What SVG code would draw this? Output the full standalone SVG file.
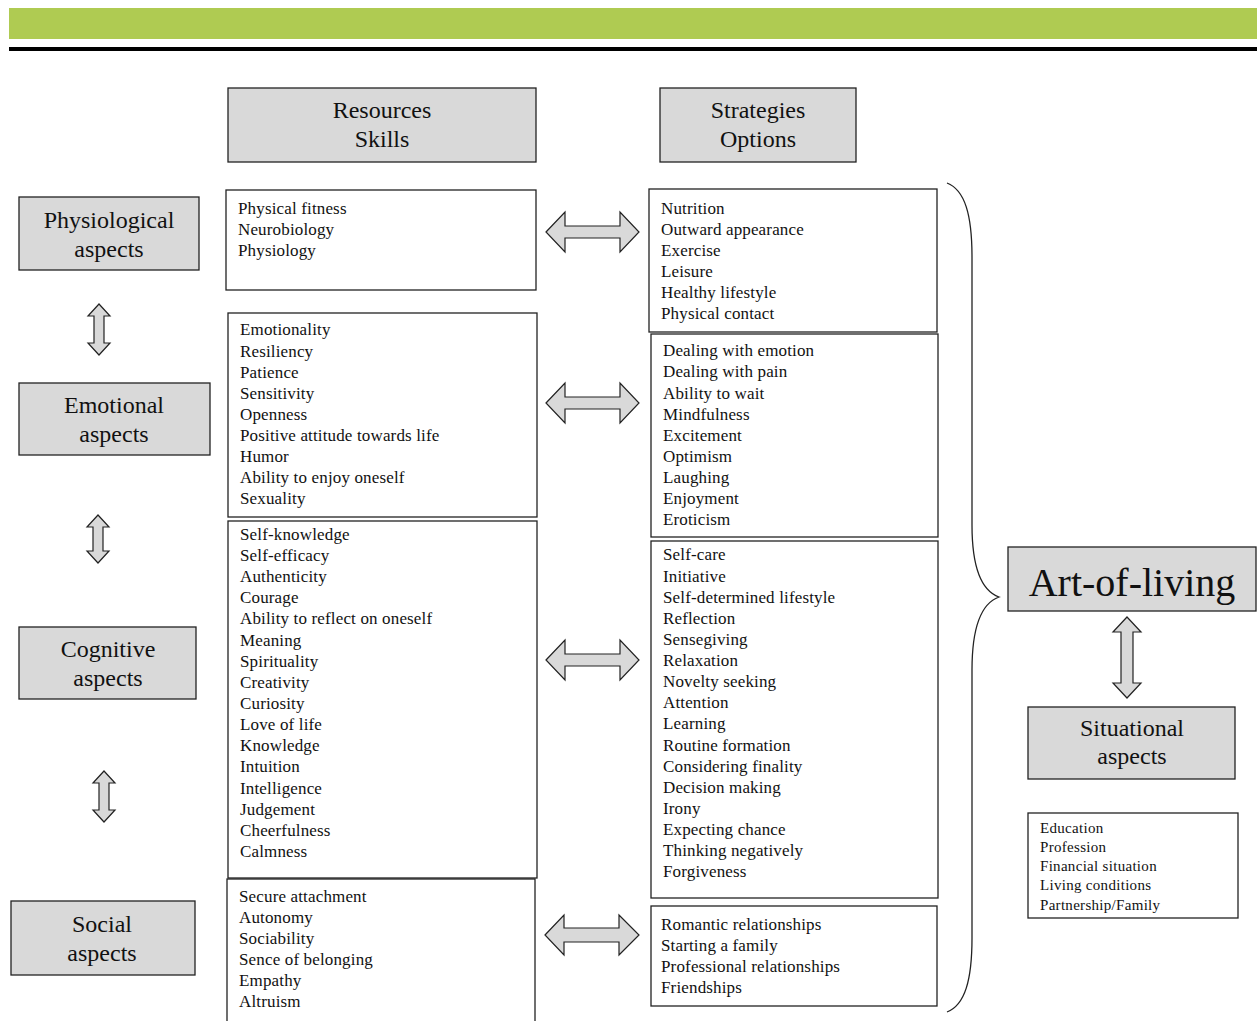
<svg xmlns="http://www.w3.org/2000/svg" width="1257" height="1021" viewBox="0 0 1257 1021">
<style>
.bg{fill:#ffffff}
.gray{fill:#d9d9d9;stroke:#222;stroke-width:1.3}
.box{fill:#ffffff;stroke:#222;stroke-width:1.3}
.arr{fill:#d9d9d9;stroke:#222;stroke-width:1.2;stroke-linejoin:miter}
.lbl{font-family:"Liberation Serif","Times New Roman",serif;font-size:24px;fill:#111;text-anchor:middle}
.big{font-family:"Liberation Serif","Times New Roman",serif;font-size:40px;fill:#111;text-anchor:middle}
.lst{font-family:"Liberation Serif","Times New Roman",serif;font-size:17px;fill:#111;letter-spacing:0.15px}
.sm{font-family:"Liberation Serif","Times New Roman",serif;font-size:15px;fill:#111;letter-spacing:0.3px}
.brace{fill:none;stroke:#222;stroke-width:1.3}
</style>
<rect class="bg" x="0" y="0" width="1257" height="1021"/>
<rect x="9" y="8" width="1248" height="31" fill="#afcb52"/>
<rect x="9" y="47" width="1248" height="4" fill="#000"/>

<g id="header-resources"><rect class="gray" x="228" y="88" width="308" height="74"/><text class="lbl" x="382" y="118">Resources</text><text class="lbl" x="382" y="147">Skills</text></g>
<g id="header-strategies"><rect class="gray" x="660" y="88" width="196" height="74"/><text class="lbl" x="758" y="118">Strategies</text><text class="lbl" x="758" y="147">Options</text></g>

<g id="physiological"><rect class="gray" x="19" y="197" width="180" height="73"/><text class="lbl" x="109" y="228">Physiological</text><text class="lbl" x="109" y="257">aspects</text></g>
<g id="emotional"><rect class="gray" x="19" y="383" width="191" height="72"/><text class="lbl" x="114" y="413">Emotional</text><text class="lbl" x="114" y="442">aspects</text></g>
<g id="cognitive"><rect class="gray" x="19" y="627" width="177" height="72"/><text class="lbl" x="108" y="657">Cognitive</text><text class="lbl" x="108" y="686">aspects</text></g>
<g id="social"><rect class="gray" x="11" y="901" width="184" height="74"/><text class="lbl" x="102" y="932">Social</text><text class="lbl" x="102" y="961">aspects</text></g>

<g id="res-physiological"><rect class="box" x="226" y="190" width="310" height="100"/>
<text class="lst" x="238" y="214">Physical fitness</text><text class="lst" x="238" y="235">Neurobiology</text><text class="lst" x="238" y="256">Physiology</text></g>

<g id="res-emotional"><rect class="box" x="228" y="313" width="309" height="204"/>
<text class="lst" x="240" y="335">Emotionality</text><text class="lst" x="240" y="357">Resiliency</text><text class="lst" x="240" y="378">Patience</text><text class="lst" x="240" y="399">Sensitivity</text><text class="lst" x="240" y="420">Openness</text><text class="lst" x="240" y="441">Positive attitude towards life</text><text class="lst" x="240" y="462">Humor</text><text class="lst" x="240" y="483">Ability to enjoy oneself</text><text class="lst" x="240" y="504">Sexuality</text></g>

<g id="res-cognitive"><rect class="box" x="228" y="521" width="309" height="357"/>
<text class="lst" x="240" y="540">Self-knowledge</text><text class="lst" x="240" y="561">Self-efficacy</text><text class="lst" x="240" y="582">Authenticity</text><text class="lst" x="240" y="603">Courage</text><text class="lst" x="240" y="624">Ability to reflect on oneself</text><text class="lst" x="240" y="646">Meaning</text><text class="lst" x="240" y="667">Spirituality</text><text class="lst" x="240" y="688">Creativity</text><text class="lst" x="240" y="709">Curiosity</text><text class="lst" x="240" y="730">Love of life</text><text class="lst" x="240" y="751">Knowledge</text><text class="lst" x="240" y="772">Intuition</text><text class="lst" x="240" y="794">Intelligence</text><text class="lst" x="240" y="815">Judgement</text><text class="lst" x="240" y="836">Cheerfulness</text><text class="lst" x="240" y="857">Calmness</text></g>

<g id="res-social"><rect class="box" x="227" y="879" width="308" height="150"/>
<text class="lst" x="239" y="902">Secure attachment</text><text class="lst" x="239" y="923">Autonomy</text><text class="lst" x="239" y="944">Sociability</text><text class="lst" x="239" y="965">Sence of belonging</text><text class="lst" x="239" y="986">Empathy</text><text class="lst" x="239" y="1007">Altruism</text></g>

<g id="str-physiological"><rect class="box" x="649" y="189" width="288" height="143"/>
<text class="lst" x="661" y="214">Nutrition</text><text class="lst" x="661" y="235">Outward appearance</text><text class="lst" x="661" y="256">Exercise</text><text class="lst" x="661" y="277">Leisure</text><text class="lst" x="661" y="298">Healthy lifestyle</text><text class="lst" x="661" y="319">Physical contact</text></g>

<g id="str-emotional"><rect class="box" x="651" y="334" width="287" height="203"/>
<text class="lst" x="663" y="356">Dealing with emotion</text><text class="lst" x="663" y="377">Dealing with pain</text><text class="lst" x="663" y="399">Ability to wait</text><text class="lst" x="663" y="420">Mindfulness</text><text class="lst" x="663" y="441">Excitement</text><text class="lst" x="663" y="462">Optimism</text><text class="lst" x="663" y="483">Laughing</text><text class="lst" x="663" y="504">Enjoyment</text><text class="lst" x="663" y="525">Eroticism</text></g>

<g id="str-cognitive"><rect class="box" x="651" y="541" width="287" height="357"/>
<text class="lst" x="663" y="560">Self-care</text><text class="lst" x="663" y="582">Initiative</text><text class="lst" x="663" y="603">Self-determined lifestyle</text><text class="lst" x="663" y="624">Reflection</text><text class="lst" x="663" y="645">Sensegiving</text><text class="lst" x="663" y="666">Relaxation</text><text class="lst" x="663" y="687">Novelty seeking</text><text class="lst" x="663" y="708">Attention</text><text class="lst" x="663" y="729">Learning</text><text class="lst" x="663" y="751">Routine formation</text><text class="lst" x="663" y="772">Considering finality</text><text class="lst" x="663" y="793">Decision making</text><text class="lst" x="663" y="814">Irony</text><text class="lst" x="663" y="835">Expecting chance</text><text class="lst" x="663" y="856">Thinking negatively</text><text class="lst" x="663" y="877">Forgiveness</text></g>

<g id="str-social"><rect class="box" x="651" y="906" width="286" height="100"/>
<text class="lst" x="661" y="930">Romantic relationships</text><text class="lst" x="661" y="951">Starting a family</text><text class="lst" x="661" y="972">Professional relationships</text><text class="lst" x="661" y="993">Friendships</text></g>

<g id="art-of-living"><rect class="gray" x="1008" y="547" width="248" height="64"/><text class="big" x="1132" y="596">Art-of-living</text></g>
<g id="situational"><rect class="gray" x="1028" y="707" width="207" height="72"/><text class="lbl" x="1132" y="736">Situational</text><text class="lbl" x="1132" y="764">aspects</text></g>
<g id="situational-list"><rect class="box" x="1028" y="813" width="210" height="105"/>
<text class="sm" x="1040" y="833">Education</text><text class="sm" x="1040" y="852">Profession</text><text class="sm" x="1040" y="871">Financial situation</text><text class="sm" x="1040" y="890">Living conditions</text><text class="sm" x="1040" y="910">Partnership/Family</text></g>

<g id="connectors">
<path class="arr" d="M546,232 L565,212 L565,226 L620,226 L620,212 L639,232 L620,252 L620,238 L565,238 L565,252 Z"/>
<path class="arr" d="M546,403 L565,383 L565,397 L620,397 L620,383 L639,403 L620,423 L620,409 L565,409 L565,423 Z"/>
<path class="arr" d="M546,660 L565,640 L565,654 L620,654 L620,640 L639,660 L620,680 L620,666 L565,666 L565,680 Z"/>
<path class="arr" d="M545,935 L564,915 L564,928 L619,928 L619,915 L639,935 L619,955 L619,942 L564,942 L564,955 Z"/>
<path class="arr" d="M99,304 L110,316 L104,316 L104,343 L110,343 L99,355 L88,343 L94,343 L94,316 L88,316 Z"/>
<path class="arr" d="M98,515 L109,527 L103,527 L103,551 L109,551 L98,563 L87,551 L93,551 L93,527 L87,527 Z"/>
<path class="arr" d="M104,771 L115,783 L109,783 L109,810 L115,810 L104,822 L93,810 L99,810 L99,783 L93,783 Z"/>
<path class="arr" d="M1127,617 L1141,632 L1133,632 L1133,683 L1141,683 L1127,698 L1113,683 L1121,683 L1121,632 L1113,632 Z"/>
<path class="brace" d="M947,183 C965,190 972,215 972,257 L972,525 C972,575 985,592 999,597 C985,602 972,620 972,670 L972,938 C972,980 965,1005 947,1012"/>
</g>
</svg>
